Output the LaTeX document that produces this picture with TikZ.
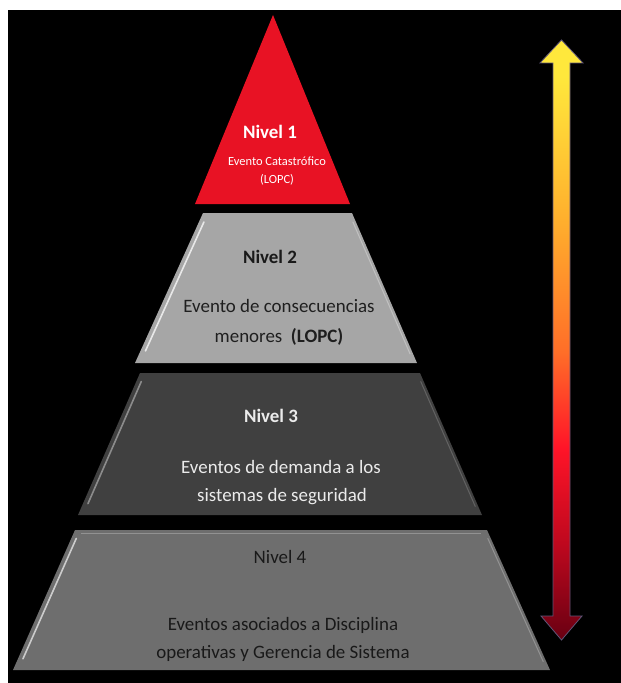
\documentclass[tikz,border=0pt]{standalone}
\usepackage{fontspec}
\setmainfont{Carlito}
\usetikzlibrary{calc}
\definecolor{lvone}{RGB}{232,18,36}
\definecolor{lvtwo}{RGB}{166,166,166}
\definecolor{lvthree}{RGB}{64,64,64}
\definecolor{lvfour}{RGB}{110,110,110}
\definecolor{dred}{RGB}{105,0,18}
\definecolor{mred}{RGB}{190,8,30}
\definecolor{bred}{RGB}{255,20,40}
\definecolor{orng}{RGB}{255,110,40}
\definecolor{yorng}{RGB}{255,175,45}
\definecolor{yell}{RGB}{255,232,60}
\pgfdeclareverticalshading{heat}{100bp}{color(0bp)=(dred); color(25bp)=(dred); color(33bp)=(mred); color(41bp)=(bred); color(49bp)=(orng); color(60bp)=(yorng); color(72bp)=(yell); color(100bp)=(yell)}
\tikzset{
  big/.style={font=\fontsize{19}{22}\selectfont, inner sep=0pt, align=center},
  small/.style={font=\fontsize{12.5}{14}\selectfont, inner sep=0pt, align=center},
  hilite/.style={line width=1.6bp, line cap=round, draw opacity=0.75},
}
\begin{document}
\begin{tikzpicture}[x=1bp,y=-1bp]
\useasboundingbox (0,0) rectangle (621,683);
\fill[white] (0,0) rectangle (621,683);
\fill[black] (8,10) rectangle (621,683);

% level 1
\coordinate (a1) at (273,15);
\coordinate (b1) at (350,204);
\coordinate (c1) at (195,204);
\fill[lvone] (a1) -- (b1) -- (c1) -- cycle;

% level 2
\coordinate (tl2) at (203,213); \coordinate (tr2) at (352,213);
\coordinate (br2) at (417,363); \coordinate (bl2) at (135,363);
\fill[lvtwo] (tl2) -- (tr2) -- (br2) -- (bl2) -- cycle;
\draw[white,hilite] ($(tl2)!0.06!(bl2)+(5,0)$) -- ($(tl2)!0.92!(bl2)+(5,0)$);
\draw[white,hilite,draw opacity=0.3,line width=1bp] ($(tr2)!0.06!(br2)+(-3,0)$) -- ($(tr2)!0.94!(br2)+(-3,0)$);

% level 3
\coordinate (tl3) at (140,373); \coordinate (tr3) at (420,373);
\coordinate (br3) at (482,515); \coordinate (bl3) at (78,515);
\fill[lvthree] (tl3) -- (tr3) -- (br3) -- (bl3) -- cycle;
\draw[gray!70,hilite] ($(tl3)!0.06!(bl3)+(5,0)$) -- ($(tl3)!0.92!(bl3)+(5,0)$);
\draw[gray!60,hilite,draw opacity=0.3,line width=1bp] ($(tr3)!0.06!(br3)+(-3,0)$) -- ($(tr3)!0.94!(br3)+(-3,0)$);

% level 4
\coordinate (tl4) at (75,530); \coordinate (tr4) at (487,530);
\coordinate (br4) at (550,670); \coordinate (bl4) at (13,670);
\fill[lvfour] (tl4) -- (tr4) -- (br4) -- (bl4) -- cycle;
\draw[white!85!gray,hilite] ($(tl4)!0.06!(bl4)+(5,0)$) -- ($(tl4)!0.92!(bl4)+(5,0)$);
\draw[white,hilite,draw opacity=0.25,line width=1bp] ($(tr4)!0.06!(br4)+(-3,0)$) -- ($(tr4)!0.94!(br4)+(-3,0)$);
\draw[white,draw opacity=0.25,line width=1bp] ($(tl4)+(6,3)$) -- ($(tr4)+(-6,3)$);

% texts level 1
\node[big,white,font=\fontsize{19}{22}\selectfont\bfseries] (n1) at (270,132) {Nivel 1};
\node[small,white] (t1a) at (277,161) {Evento Catastrófico};
\node[small,white] (t1b) at (277,180) {(LOPC)};

% texts level 2
\node[big,black!90,font=\fontsize{19}{22}\selectfont\bfseries] (n2) at (270,257) {Nivel 2};
\node[big,black!88] (t2a) at (279,306) {Evento de consecuencias};
\node[big,black!88] (t2b) at (279,337) {menores \ \textbf{(LOPC)}};

% texts level 3
\node[big,white!92!black,font=\fontsize{19}{22}\selectfont\bfseries] (n3) at (271,416) {Nivel 3};
\node[big,white!92!black] (t3a) at (281,467) {Eventos de demanda a los};
\node[big,white!92!black] (t3b) at (282,497) {sistemas de seguridad};

% texts level 4
\node[big,black!90] (n4) at (280,557) {Nivel 4};
\node[big,black!90] (t4a) at (283,625) {Eventos asociados a Disciplina};
\node[big,black!90] (t4b) at (283,653) {operativas y Gerencia de Sistema};

% double arrow
\coordinate (up) at (561.5,40);
\coordinate (dn) at (561.5,640);
\shade[shading=heat, draw={rgb,255:red,95;green,85;blue,120}, line width=0.8bp, line join=miter]
  (up) -- (583,63) -- (570,63) -- (570,616) -- (582,616) -- (dn)
  -- (541,616) -- (553,616) -- (553,63) -- (540,63) -- cycle;
\end{tikzpicture}
\end{document}
